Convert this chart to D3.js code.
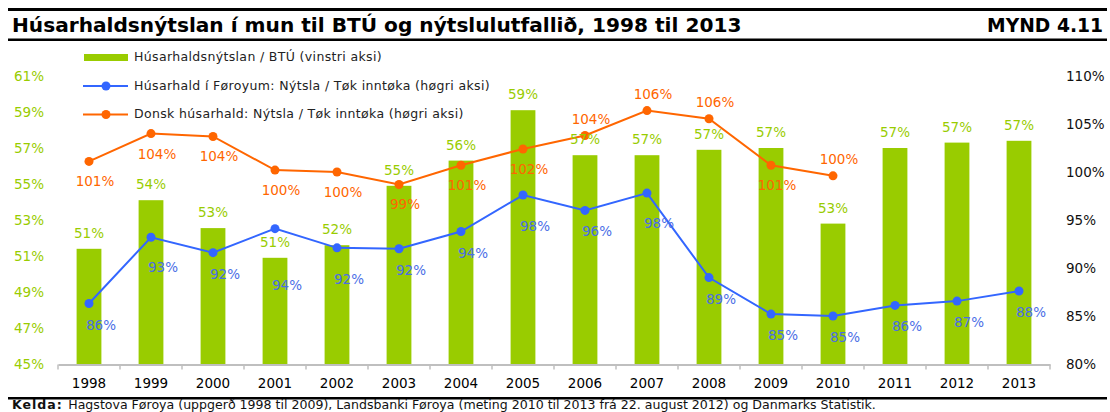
<!DOCTYPE html>
<html>
<head>
<meta charset="utf-8">
<script src="https://d3js.org/d3.v7.min.js"></script>
<style>
  body { margin: 0; background: #fff; }
  svg { display: block; font-family: "DejaVu Sans", Verdana, sans-serif; }
</style>
</head>
<body>
<div id="chart"></div>
<script>
// data
var years = ["1998","1999","2000","2001","2002","2003","2004","2005","2006","2007","2008","2009","2010","2011","2012","2013"];
var consumptionGdp = [51.4, 54.1, 52.55, 50.9, 51.6, 54.9, 56.3, 59.1, 56.6, 56.6, 56.9, 57.0, 52.8, 57.0, 57.3, 57.4];
var faroeRatio = [86.3, 93.2, 91.6, 94.1, 92.1, 92.0, 93.8, 97.6, 96.0, 97.8, 89.0, 85.2, 85.0, 86.1, 86.55, 87.6];
var danishRatio = [101.1, 104.0, 103.7, 100.2, 100.0, 98.7, 100.7, 102.4, 103.8, 106.4, 105.55, 100.7, 99.6, null, null, null];
var leftTicks = [45, 47, 49, 51, 53, 55, 57, 59, 61];
var rightTicks = [80, 85, 90, 95, 100, 105, 110];

var titleText = "Húsarhaldsnýtslan í mun til BTÚ og nýtslulutfallið, 1998 til 2013";
var figText = "MYND 4.11";
var legendNames = ["Húsarhaldsnýtslan / BTÚ (vinstri aksi)",
                   "Húsarhald í Føroyum: Nýtsla / Tøk inntøka (høgri aksi)",
                   "Donsk húsarhald: Nýtsla / Tøk inntøka (høgri aksi)"];
var sourceLabel = "Kelda:";
var sourceText = "Hagstova Føroya (uppgerð 1998 til 2009), Landsbanki Føroya (meting 2010 til 2013 frá 22. august 2012) og Danmarks Statistik.";

// colours
var green = "#99CC00";
var blue = "#3366FF";
var blueText = "#4A6EE6";
var orange = "#FF6600";

// label placement tweaks (Excel labels were nudged by hand)
var blueNudge = {"1999": 9, "2001": 35, "2002": 10, "2005": 10, "2007": 9};
var orangeAbove = {"2006": true, "2007": true, "2008": true, "2010": true};

var W = 1110, H = 412;
var svg = d3.select("#chart").append("svg").attr("width", W).attr("height", H);

// scales
var x = d3.scaleBand().domain(years).range([58, 1050]).paddingInner(0.6).paddingOuter(0.3);
var yLeft = d3.scaleLinear().domain([45, 61]).range([364, 76]);
var yRight = d3.scaleLinear().domain([80, 110]).range([364, 76]);
var cx = function(d, i) { return x(years[i]) + x.bandwidth() / 2; };

// header rules + title
svg.append("rect").attr("x", 8).attr("y", 8).attr("width", 1099).attr("height", 3).attr("fill", "#000");
svg.append("rect").attr("x", 8).attr("y", 38.5).attr("width", 1099).attr("height", 2.5).attr("fill", "#000");

function fitText(sel, target) {
  var w = sel.node().getComputedTextLength();
  var fs = parseFloat(sel.attr("font-size"));
  sel.attr("font-size", fs * target / w);
}

var title = svg.append("text").attr("x", 12).attr("y", 32)
  .attr("font-size", 18).attr("font-weight", "bold").attr("fill", "#000")
  .text(titleText);
fitText(title, 730);

var fig = svg.append("text").attr("x", 1103).attr("y", 32).attr("text-anchor", "end")
  .attr("font-size", 18).attr("font-weight", "bold").attr("fill", "#000")
  .text(figText);
fitText(fig, 116);

// bars
svg.append("g").selectAll("rect").data(consumptionGdp).join("rect")
  .attr("x", function(d, i) { return x(years[i]); })
  .attr("y", function(d) { return yLeft(d); })
  .attr("width", x.bandwidth())
  .attr("height", function(d) { return yLeft(45) - yLeft(d); })
  .attr("fill", green);

// x axis
var xAxis = d3.axisBottom(x).tickSize(0).tickPadding(14);
var gx = svg.append("g").attr("transform", "translate(0,364.5)").call(xAxis);
gx.select(".domain").attr("stroke", "#BFBFBF").attr("stroke-width", 2);
gx.selectAll("text").attr("font-size", 13.5).attr("fill", "#000").attr("font-family", "DejaVu Sans, sans-serif");
// tick marks between categories
var bounds = years.map(function(d) { return x(d) - x.step() * x.paddingInner() / 2; });
bounds.push(x.range()[1]);
gx.selectAll(".sep").data(bounds).join("line").attr("class", "sep")
  .attr("x1", function(d) { return d; }).attr("x2", function(d) { return d; })
  .attr("y1", 0).attr("y2", 5).attr("stroke", "#BFBFBF").attr("stroke-width", 1.5);

// left axis (labels only)
var gl = svg.append("g").attr("transform", "translate(44,0)")
  .call(d3.axisLeft(yLeft).tickValues(leftTicks).tickSize(0).tickPadding(0).tickFormat(function(d) { return d + "%"; }));
gl.select(".domain").remove();
gl.selectAll("text").attr("font-size", 13.5).attr("fill", green).attr("font-family", "DejaVu Sans, sans-serif");

// right axis (labels only)
var gr = svg.append("g").attr("transform", "translate(1066,0)")
  .call(d3.axisRight(yRight).tickValues(rightTicks).tickSize(0).tickPadding(0).tickFormat(function(d) { return d + "%"; }));
gr.select(".domain").remove();
gr.selectAll("text").attr("font-size", 13.5).attr("fill", "#111").attr("font-family", "DejaVu Sans, sans-serif");

// lines
var faroeLine = d3.line().x(cx).y(function(d) { return yRight(d); });
var danishLine = d3.line().defined(function(d) { return d != null; }).x(cx).y(function(d) { return yRight(d); });

svg.append("path").datum(faroeRatio).attr("d", faroeLine)
  .attr("fill", "none").attr("stroke", blue).attr("stroke-width", 2);
svg.append("path").datum(danishRatio).attr("d", danishLine)
  .attr("fill", "none").attr("stroke", orange).attr("stroke-width", 2);

svg.append("g").selectAll("circle").data(faroeRatio).join("circle")
  .attr("cx", cx).attr("cy", function(d) { return yRight(d); }).attr("r", 4.5).attr("fill", blue);

var danishPts = danishRatio.map(function(d, i) { return {v: d, i: i}; }).filter(function(p) { return p.v != null; });
svg.append("g").selectAll("circle").data(danishPts).join("circle")
  .attr("cx", function(p) { return cx(null, p.i); }).attr("cy", function(p) { return yRight(p.v); })
  .attr("r", 4.5).attr("fill", orange);

// data labels
svg.append("g").selectAll("text").data(consumptionGdp).join("text")
  .attr("x", cx).attr("y", function(d) { return yLeft(d) - 15; })
  .attr("text-anchor", "middle").attr("dominant-baseline", "middle")
  .attr("font-size", 13.5).attr("fill", green)
  .text(function(d) { return Math.round(d) + "%"; });

svg.append("g").selectAll("text").data(faroeRatio).join("text")
  .attr("x", function(d, i) { return cx(d, i) + 12; })
  .attr("y", function(d, i) { return yRight(d) + 22 + (blueNudge[years[i]] || 0); })
  .attr("text-anchor", "middle").attr("dominant-baseline", "middle")
  .attr("font-size", 13.5).attr("fill", blueText)
  .text(function(d) { return Math.round(d) + "%"; });

svg.append("g").selectAll("text").data(danishPts).join("text")
  .attr("x", function(p) { return cx(null, p.i) + 6; })
  .attr("y", function(p) { return yRight(p.v) + (orangeAbove[years[p.i]] ? -16 : 21); })
  .attr("text-anchor", "middle").attr("dominant-baseline", "middle")
  .attr("font-size", 13.5).attr("fill", orange)
  .text(function(p) { return Math.round(p.v) + "%"; });

// legend
var leg = svg.append("g");
leg.append("rect").attr("x", 84).attr("y", 54).attr("width", 44).attr("height", 7).attr("fill", green);
[[86, blue], [114.5, orange]].forEach(function(r) {
  leg.append("line").attr("x1", 83).attr("x2", 128).attr("y1", r[0]).attr("y2", r[0])
    .attr("stroke", r[1]).attr("stroke-width", 2);
  leg.append("circle").attr("cx", 106).attr("cy", r[0]).attr("r", 4.5).attr("fill", r[1]);
});
leg.selectAll("text").data(legendNames).join("text")
  .attr("x", 134).attr("y", function(d, i) { return [57.5, 86, 114.5][i]; })
  .attr("dominant-baseline", "middle").attr("font-size", 12.5).attr("letter-spacing", 0.35).attr("fill", "#222")
  .text(function(d) { return d; });

// footer
svg.append("rect").attr("x", 8).attr("y", 397).attr("width", 1099).attr("height", 2.5).attr("fill", "#000");
var src = svg.append("text").attr("x", 12).attr("y", 408.5).attr("font-size", 11).attr("fill", "#111");
src.append("tspan").attr("font-weight", "bold").attr("letter-spacing", 1).text(sourceLabel + " ");
src.append("tspan").text(sourceText);
fitText(src, 866);
</script>
</body>
</html>
